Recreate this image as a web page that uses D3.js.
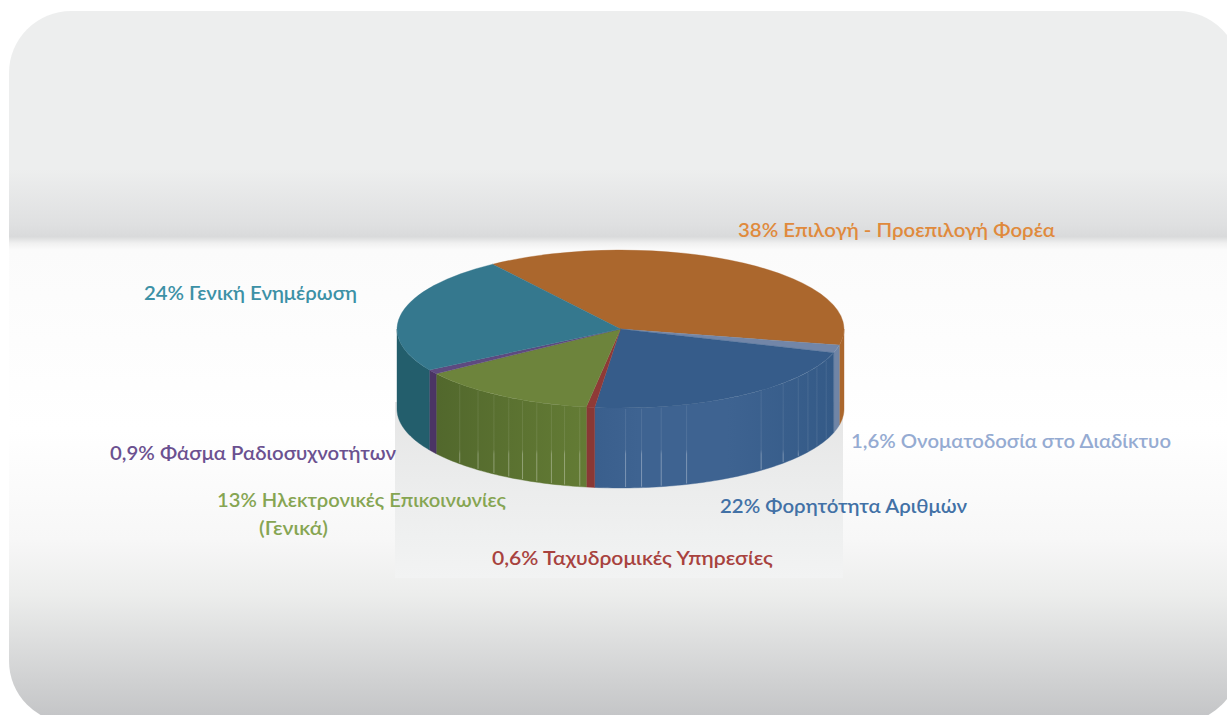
<!DOCTYPE html>
<html><head><meta charset="utf-8">
<script src="https://cdnjs.cloudflare.com/ajax/libs/d3/7.8.5/d3.min.js"></script>
<style>html,body{margin:0;padding:0;background:#fff;overflow:hidden}svg{display:block}</style>
</head><body><div id="chart"></div>
<script>
// ---- data ----
const categories = [
  "Επιλογή - Προεπιλογή Φορέα",
  "Ονοματοδοσία στο Διαδίκτυο",
  "Φορητότητα Αριθμών",
  "Ταχυδρομικές Υπηρεσίες",
  "Ηλεκτρονικές Επικοινωνίες (Γενικά)",
  "Φάσμα Ραδιοσυχνοτήτων",
  "Γενική Ενημέρωση"
];
const values = [38, 1.6, 22, 0.6, 13, 0.9, 24];
const valueLabels = ["38%", "1,6%", "22%", "0,6%", "13%", "0,9%", "24%"];
const topColors  = ["#ab672d", "#7286a8", "#365c8a", "#8f3a37", "#6d843c", "#5e4a80", "#35788e"];
const sideColors = ["#ab672d", "#7085a6", "#3d6290", "#8a3835", "#5b7331", "#4b3565", "#235e6c"];
const textColors = ["#e08a3c", "#95abd2", "#4271a6", "#a8423e", "#86a552", "#6b5190", "#3c91a6"];
// facet seams on the side wall, degrees clockwise from the back of the pie
const seamAngles = [113, 118.5, 123, 127.3, 133.3, 141, 162.8, 169.5, 174.6, 178.7,
                    190.5, 194.5, 198, 202, 206, 210, 214.5, 219.6, 226];

// ---- layout ----
const W = 1227, H = 715;
const cx = 620.5, cy = 329, rx = 223.5, ry = 79, depth = 80;
const firstAngle = -34.9 * Math.PI / 180;
const labelLayout = [
  {lines:["38% Επιλογή - Προεπιλογή Φορέα"], x:738, y:[236.5], w:[317]},
  {lines:["1,6% Ονοματοδοσία στο Διαδίκτυο"], x:851, y:[447.5], w:[320]},
  {lines:["22% Φορητότητα Αριθμών"], x:720, y:[512.5], w:[247]},
  {lines:["0,6% Ταχυδρομικές Υπηρεσίες"], x:492, y:[564.5], w:[281]},
  {lines:["13% Ηλεκτρονικές Επικοινωνίες","(Γενικά)"], x:217, y:[506.5,534.5], w:[289,69], dx:[0,42]},
  {lines:["0,9% Φάσμα Ραδιοσυχνοτήτων"], x:110, y:[459.5], w:[286]},
  {lines:["24% Γενική Ενημέρωση"], x:144, y:[300], w:[213]}
];

const svg = d3.select("#chart").append("svg").attr("width", W).attr("height", H);
const defs = svg.append("defs");

function linGrad(id, stops, attrs) {
  const g = defs.append("linearGradient").attr("id", id)
    .attr("x1", 0).attr("y1", 0).attr("x2", 0).attr("y2", 1);
  if (attrs) Object.entries(attrs).forEach(([k, v]) => g.attr(k, v));
  stops.forEach(s => g.append("stop").attr("offset", s[0]).attr("stop-color", s[1])
    .attr("stop-opacity", s[2] === undefined ? 1 : s[2]));
}
linGrad("bg", [
  [0, "#edeeee"], [0.223, "#edeeee"], [0.30, "#dfe0e1"], [0.317, "#d9dadb"],
  [0.326, "#f0f0f0"], [0.336, "#fbfbfb"], [0.588, "#ffffff"], [0.743, "#f7f7f7"],
  [0.82, "#ecedec"], [1, "#c2c3c5"]
]);
linGrad("panel", [[0, "#e5e5e5"], [0.44, "#ebecec"], [1, "#f2f3f3"]]);
linGrad("greenSide", [[0, "#51672c"], [1, "#647c35"]],
  {gradientUnits:"userSpaceOnUse", x1:430, y1:0, x2:590, y2:0});
linGrad("blueSide", [[0, "#3a5f8d"], [0.18, "#3e6391"], [0.55, "#3e6391"], [1, "#345a87"]],
  {gradientUnits:"userSpaceOnUse", x1:596, y1:0, x2:834, y2:0});
linGrad("seam", [[0, "#ffffff", 0.08], [0.55, "#ffffff", 0.1], [0.6, "#ffffff", 0.32], [1, "#ffffff", 0.32]],
  {gradientUnits:"userSpaceOnUse", y1:400, y2:490, x1:0, x2:0});

// background panel (runs off the right and bottom of the window)
svg.append("rect").attr("x", 9).attr("y", 11).attr("width", 1231).attr("height", 712)
  .attr("rx", 62).attr("ry", 62).attr("fill", "url(#bg)");

// reflection panel below the pie
svg.append("rect").attr("x", 395).attr("y", 402).attr("width", 448).attr("height", 176)
  .attr("fill", "url(#panel)");

// scales: unit circle to the projected ellipse
const sx = d3.scaleLinear().domain([-1, 1]).range([cx - rx, cx + rx]);
const sy = d3.scaleLinear().domain([-1, 1]).range([cy - ry, cy + ry]);
const ptX = a => sx(Math.sin(a));
const ptY = a => sy(-Math.cos(a));

const pie = d3.pie().sort(null).startAngle(firstAngle).endAngle(firstAngle + 2 * Math.PI);
const arcs = pie(values);

// side wall
const sideGroup = svg.append("g");
const line = d3.line().x(d => d[0]).y(d => d[1]);
function wallPath(a0, a1) {
  const n = Math.max(2, Math.ceil(Math.abs(a1 - a0) / 0.02));
  const ang = d3.range(n + 1).map(i => a0 + (a1 - a0) * i / n);
  const upper = ang.map(a => [ptX(a), ptY(a)]);
  const lower = ang.slice().reverse().map(a => [ptX(a), ptY(a) + depth]);
  return line(upper.concat(lower)) + "Z";
}
const HALF = Math.PI / 2, THREE = 3 * Math.PI / 2;
const wallFill = i => i === 4 ? "url(#greenSide)" : i === 2 ? "url(#blueSide)" : sideColors[i];
sideGroup.selectAll("path").data(arcs).join("path")
  .attr("d", d => {
    const a0 = Math.max(d.startAngle, HALF), a1 = Math.min(d.endAngle, THREE);
    return a1 > a0 ? wallPath(a0, a1) : "";
  })
  .attr("fill", (d, i) => wallFill(i))
  .attr("stroke", (d, i) => wallFill(i)).attr("stroke-width", 0.4);

// seams between facets
svg.append("g").selectAll("line").data(seamAngles).join("line")
  .attr("x1", d => ptX(d * Math.PI / 180)).attr("x2", d => ptX(d * Math.PI / 180))
  .attr("y1", d => ptY(d * Math.PI / 180) + 1)
  .attr("y2", d => ptY(d * Math.PI / 180) + depth - 1)
  .attr("stroke", "url(#seam)").attr("stroke-width", 1);

// top face: d3.arc squashed into the ellipse
const arcGen = d3.arc().innerRadius(0).outerRadius(rx);
svg.append("g").attr("transform", `translate(${cx},${cy}) scale(1,${ry / rx})`)
  .selectAll("path").data(arcs).join("path")
  .attr("d", arcGen)
  .attr("fill", (d, i) => topColors[i])
  .attr("stroke", (d, i) => topColors[i]).attr("stroke-width", 0.5);

// labels
const labels = svg.append("g").attr("font-family", "Lato, 'Noto Sans', sans-serif")
  .attr("font-size", 20).attr("font-weight", 600);
labelLayout.forEach((l, i) => {
  l.lines.forEach((t, j) => {
    labels.append("text")
      .attr("x", l.x + (l.dx ? l.dx[j] : 0)).attr("y", l.y[j])
      .attr("fill", textColors[i])
      .attr("textLength", l.w[j]).attr("lengthAdjust", "spacingAndGlyphs")
      .text(t);
  });
});
</script>
</body></html>
